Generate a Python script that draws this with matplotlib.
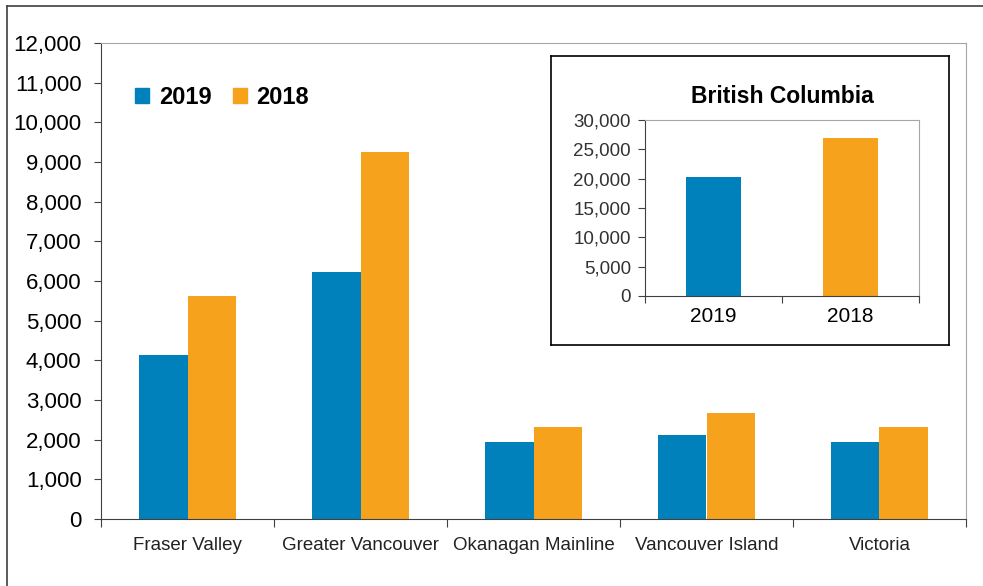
import matplotlib
matplotlib.use('Agg')
import matplotlib.pyplot as plt
from matplotlib.lines import Line2D
from matplotlib.patches import Patch
import numpy as np

plt.rcParams['font.family'] = ['Liberation Sans', 'DejaVu Sans']

# 数据
regions = ['Fraser Valley', 'Greater Vancouver', 'Okanagan Mainline', 'Vancouver Island', 'Victoria']
sales_2019 = [4130, 6230, 1950, 2110, 1950]
sales_2018 = [5620, 9250, 2310, 2665, 2310]
bc_years = ['2019', '2018']
bc_sales = [20350, 26900]

blue = '#0081bb'
orange = '#f7a21d'
dark = '#404040'
grey = '#a6a6a6'

fig = plt.figure(figsize=(9.83, 5.86), dpi=100)

# 主图
ax = fig.add_axes([101/983, 1-519/586, 865/983, 476/586])
x = np.arange(len(regions))
w = 0.283
ax.bar(x - w/2, sales_2019, w, color=blue, label='2019')
ax.bar(x + w/2, sales_2018, w, color=orange, label='2018')
ax.set_xlim(-0.5, len(regions) - 0.5)
ax.set_ylim(0, 12000)
ax.set_yticks(range(0, 12001, 1000))
ax.set_yticklabels([f'{v:,}' for v in range(0, 12001, 1000)], fontsize=16)
ax.set_xticks(np.arange(-0.5, len(regions), 1))
ax.set_xticklabels([])
ax.set_xticks(x, minor=True)
ax.set_xticklabels(regions, minor=True, fontsize=13.5, color='#222222')
ax.tick_params(axis='x', which='minor', length=0, pad=13)
ax.tick_params(axis='x', which='major', length=6, color=dark, direction='out')
ax.tick_params(axis='y', length=5, color=dark, direction='out', pad=9)
for s in ['left', 'bottom']:
    ax.spines[s].set_color(dark)
for s in ['top', 'right']:
    ax.spines[s].set_color(grey)

handles = [Patch(color=blue), Patch(color=orange)]
ax.legend(handles, ['2019', '2018'], ncol=2, frameon=False,
          prop={'size': 17, 'weight': 'bold'}, handlelength=0.6, handleheight=0.6,
          handletextpad=0.4, columnspacing=0.9,
          loc='upper left', bbox_to_anchor=(0.015, 0.955))

# 插图外框
box = fig.add_axes([551/983, 1-345/586, 398/983, 289/586])
box.set_xticks([])
box.set_yticks([])
for s in box.spines.values():
    s.set_color('black')
    s.set_linewidth(1.2)

# 插图
ins = fig.add_axes([645/983, 1-296/586, 274/983, 176/586])
xi = np.arange(len(bc_years))
ins.bar(xi, bc_sales, 0.4, color=[blue, orange])
ins.set_xlim(-0.5, 1.5)
ins.set_ylim(0, 30000)
ins.set_yticks(range(0, 30001, 5000))
ins.set_yticklabels([f'{v:,}' for v in range(0, 30001, 5000)], fontsize=13.5, color='#333333')
ins.set_xticks([-0.5, 0.5, 1.5])
ins.set_xticklabels([])
ins.set_xticks(xi, minor=True)
ins.set_xticklabels(bc_years, minor=True, fontsize=15)
ins.tick_params(axis='x', which='minor', length=0, pad=8)
ins.tick_params(axis='x', which='major', length=5, color=dark)
ins.tick_params(axis='y', length=5, color=dark, pad=5)
for s in ['left', 'bottom']:
    ins.spines[s].set_color(dark)
for s in ['top', 'right']:
    ins.spines[s].set_color(grey)
ins.set_title('British Columbia', fontsize=16.5, fontweight='bold', pad=12)

# 外边框
fig.add_artist(Line2D([7/983, 7/983], [0, 1-6/586], color=dark, lw=1.2))
fig.add_artist(Line2D([7/983, 1], [1-6/586, 1-6/586], color=dark, lw=1.2))

fig.savefig('out.png', dpi=100)
